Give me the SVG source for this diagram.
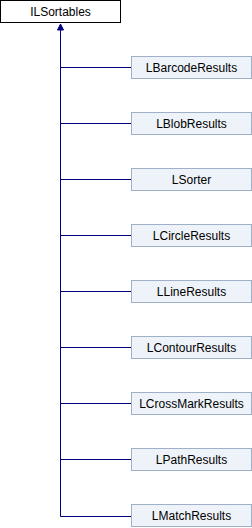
<svg xmlns="http://www.w3.org/2000/svg" width="252" height="528" viewBox="0 0 252 528">
<style>
.n rect{fill:#eef3f9;stroke:#9fb1c8;stroke-width:1}
.root rect{fill:#ffffff;stroke:#000000;stroke-width:1}
text{font-family:"Liberation Sans",Arial,sans-serif;font-size:12px;fill:#000;text-anchor:middle}
.c{stroke:#000080;stroke-width:1;fill:none}
.ah{fill:#000080;stroke:#000080;stroke-width:1}
</style>
<g id="connectors">
<path class="c" d="M60.5,516.5 V28"/>
<polygon class="ah" points="60.5,24 63.5,30 57.5,30"/>
<path class="c" d="M60.5,67.5 H131.5 M60.5,123.5 H131.5 M60.5,179.5 H131.5 M60.5,235.5 H131.5 M60.5,291.5 H131.5 M60.5,347.5 H131.5 M60.5,403.5 H131.5 M60.5,459.5 H131.5 M60.5,516.5 H131.5"/>
</g>
<g id="ILSortables" class="root"><rect x="0.5" y="0.5" width="120" height="22"/><text x="60.5" y="15.5">ILSortables</text></g>
<g id="LBarcodeResults" class="n"><rect x="131.5" y="56.5" width="120" height="22"/><text x="191.5" y="71.5">LBarcodeResults</text></g>
<g id="LBlobResults" class="n"><rect x="131.5" y="112.5" width="120" height="22"/><text x="191.5" y="127.5">LBlobResults</text></g>
<g id="LSorter" class="n"><rect x="131.5" y="168.5" width="120" height="22"/><text x="191.5" y="183.5">LSorter</text></g>
<g id="LCircleResults" class="n"><rect x="131.5" y="224.5" width="120" height="22"/><text x="191.5" y="239.5">LCircleResults</text></g>
<g id="LLineResults" class="n"><rect x="131.5" y="280.5" width="120" height="22"/><text x="191.5" y="295.5">LLineResults</text></g>
<g id="LContourResults" class="n"><rect x="131.5" y="336.5" width="120" height="22"/><text x="191.5" y="351.5">LContourResults</text></g>
<g id="LCrossMarkResults" class="n"><rect x="131.5" y="392.5" width="120" height="22"/><text x="191.5" y="407.5">LCrossMarkResults</text></g>
<g id="LPathResults" class="n"><rect x="131.5" y="448.5" width="120" height="22"/><text x="191.5" y="463.5">LPathResults</text></g>
<g id="LMatchResults" class="n"><rect x="131.5" y="504.5" width="120" height="22"/><text x="191.5" y="519.5">LMatchResults</text></g>
</svg>
